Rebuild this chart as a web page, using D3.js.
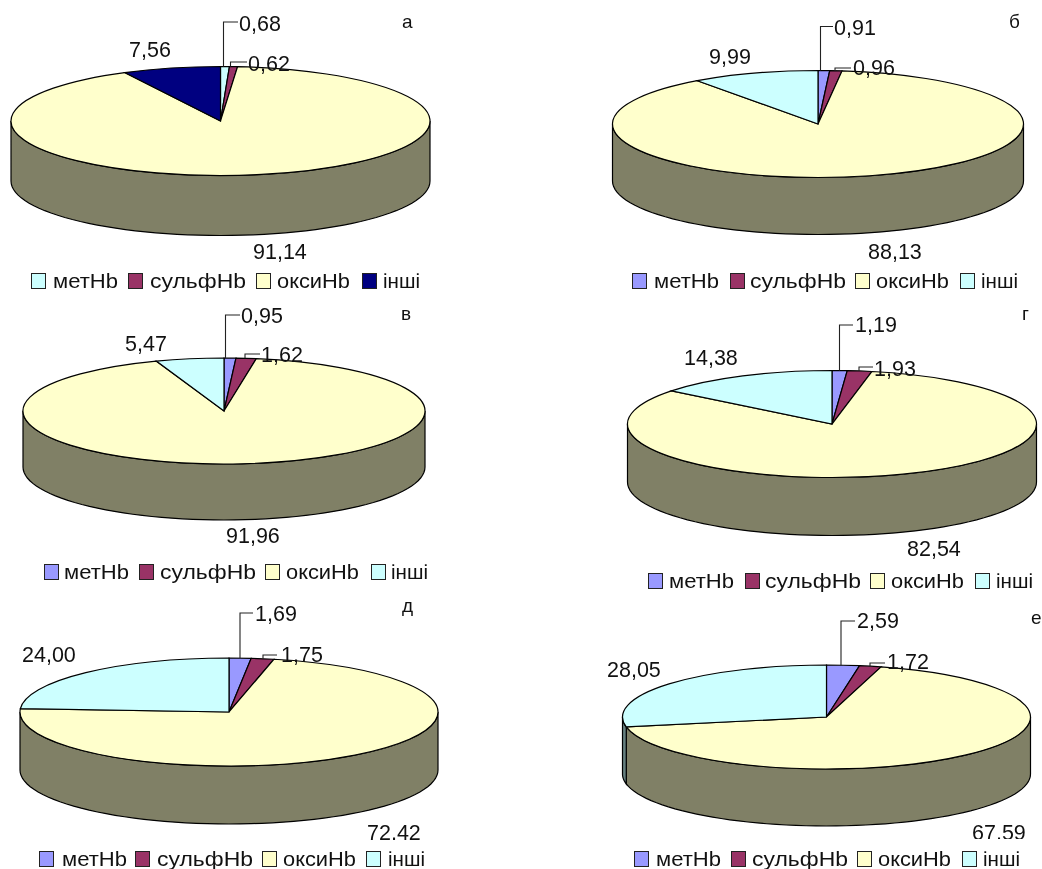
<!DOCTYPE html>
<html><head><meta charset="utf-8">
<script src="https://cdnjs.cloudflare.com/ajax/libs/d3/7.8.5/d3.min.js"></script>
<style>
html,body{margin:0;padding:0;background:#fff}
svg{display:block;filter:blur(0.35px)}
text{font-family:"Liberation Sans",Arial,sans-serif;fill:#111}
</style></head><body>
<svg id="c" width="1042" height="869"></svg>
<script>
const categories = ["метHb","сульфHb","оксиHb","інші"];
const letters = ["а","б","в","г","д","е"];
const valuesA = [0.68,0.62,91.14,7.56];
const valuesB = [0.91,0.96,88.13,9.99];
const valuesC = [0.95,1.62,91.96,5.47];
const valuesD = [1.19,1.93,82.54,14.38];
const valuesE = [1.69,1.75,72.42,24.00];
const valuesF = [2.59,1.72,67.59,28.05];
const allValues = [valuesA,valuesB,valuesC,valuesD,valuesE,valuesF];
const coloursDefault = ["#9999FF","#993366","#FFFFCC","#CCFFFF"];
const coloursFirst = ["#CCFFFF","#993366","#FFFFCC","#000080"];
const wallDefault = ["#4d4d80","#4d1a33","#808066","#668080"];
const wallFirst = ["#668080","#4d1a33","#808066","#000040"];
const legendWidths = [65,96,73,37];

// layout only: ellipse geometry, letter, clip line, legend columns, label anchors, leader elbows [x, top, right]
const layout = [
 {cx:220.5,cy:121,rx:209.5,ry:54.5,d:60,lt:[402,28],clip:262,ly:273,box:[31,128,256,362],txt:[53,150,277,383],
  lab:[[239,31],[248,71],[253,259],[129,57]],lead:[[223.5,22,238],[230.5,62,247]]},
 {cx:818,cy:124,rx:205.5,ry:53.5,d:57,lt:[1009,28],clip:262,ly:273,box:[632,730,855,960],txt:[654,750,876,981],
  lab:[[834,35],[853,75],[868,259],[709,64]],lead:[[820.5,26.5,833],[835,68,851]]},
 {cx:224,cy:411,rx:201,ry:53,d:56,lt:[401,320],clip:548,ly:564,box:[44,139,265,371],txt:[64,160,286,391],
  lab:[[241,323],[261,362],[226,543],[125,351]],lead:[[225.5,315,240],[245,354,260]]},
 {cx:832,cy:424,rx:204.5,ry:53.5,d:58,lt:[1022,320],clip:560,ly:573,box:[648,745,870,975],txt:[669,765,891,996],
  lab:[[855,332],[874,376],[907,556],[684,365]],lead:[[839.5,325,853],[859,367,873]]},
 {cx:229,cy:712,rx:209,ry:54,d:58,lt:[402,612],clip:840,ly:851,box:[39,135,262,366],txt:[62,157,283,388],
  lab:[[255,621],[281,662],[367,840],[22,662]],lead:[[240,613,253],[263,655,277]]},
 {cx:826.5,cy:717,rx:204,ry:52,d:57,lt:[1031,624],clip:839,ly:851,box:[634,731,857,962],txt:[656,752,878,983],
  lab:[[857,628],[887,669],[972,840],[607,677]],lead:[[841,621,855],[870,663,885]]}
];

const svg = d3.select("#c");
const pie = d3.pie().sort(null).value(d=>d);
const TAU = 2*Math.PI, fs = 21.5, legendFs = 21;

allValues.forEach((vals,i)=>{
  const L = layout[i];
  const fills = i===0?coloursFirst:coloursDefault;
  const walls = i===0?wallFirst:wallDefault;
  const clipId = "clip"+i;
  svg.append("clipPath").attr("id",clipId).append("rect")
     .attr("x",0).attr("y",0).attr("width",1042).attr("height",L.clip);
  const g = svg.append("g");
  const arcs = pie(vals);

  // side wall: the visible part of each slice, front half only
  const wallG = g.append("g").attr("transform",`translate(${L.cx},${L.cy})`);
  const area = d3.area()
     .x(t=>L.rx*Math.sin(t))
     .y0(t=>-L.ry*Math.cos(t))
     .y1(t=>-L.ry*Math.cos(t)+L.d);
  arcs.forEach((a,k)=>{
    const s = Math.max(a.startAngle,TAU/4), e = Math.min(a.endAngle,3*TAU/4);
    if(e<=s) return;
    const ts = d3.range(0,61).map(n=>s+(e-s)*n/60);
    wallG.append("path").attr("d",area(ts)).attr("fill",walls[k])
       .attr("stroke","#000").attr("stroke-width",1.2);
  });

  // top face: d3.arc squashed into an ellipse
  const arc = d3.arc().innerRadius(0).outerRadius(L.rx);
  g.append("g").attr("transform",`translate(${L.cx},${L.cy}) scale(1,${L.ry/L.rx})`)
   .selectAll("path").data(arcs).join("path")
   .attr("d",arc).attr("fill",(d,k)=>fills[k])
   .attr("stroke","#000").attr("stroke-width",1.2)
   .attr("vector-effect","non-scaling-stroke");

  // leader lines: vertical from the rim, then right to the label
  L.lead.forEach(ld=>{
    const u = (ld[0]-L.cx)/L.rx;
    const y0 = L.cy-L.ry*Math.sqrt(1-u*u);
    g.append("path")
     .attr("d",d3.line()([[ld[0],y0],[ld[0],ld[1]],[ld[2],ld[1]]]))
     .attr("fill","none").attr("stroke","#222").attr("stroke-width",1.1);
  });

  // value labels
  const lab = g.append("g").attr("clip-path",`url(#${clipId})`);
  vals.forEach((v,k)=>{
    lab.append("text").attr("x",L.lab[k][0]).attr("y",L.lab[k][1])
       .attr("font-size",fs).text(v.toFixed(2).replace(".",","));
  });

  // panel letter
  g.append("text").attr("x",L.lt[0]).attr("y",L.lt[1]).attr("font-size",19).attr("fill","#333").text(letters[i]);

  // legend
  categories.forEach((c,k)=>{
    g.append("rect").attr("x",L.box[k]+.5).attr("y",L.ly+.5).attr("width",14).attr("height",15)
     .attr("fill",fills[k]).attr("stroke","#222").attr("stroke-width",1);
    g.append("text").attr("x",L.txt[k]).attr("y",L.ly+15).attr("font-size",legendFs)
     .attr("textLength",legendWidths[k]).attr("lengthAdjust","spacingAndGlyphs").text(c);
  });
});
</script>
</body></html>
